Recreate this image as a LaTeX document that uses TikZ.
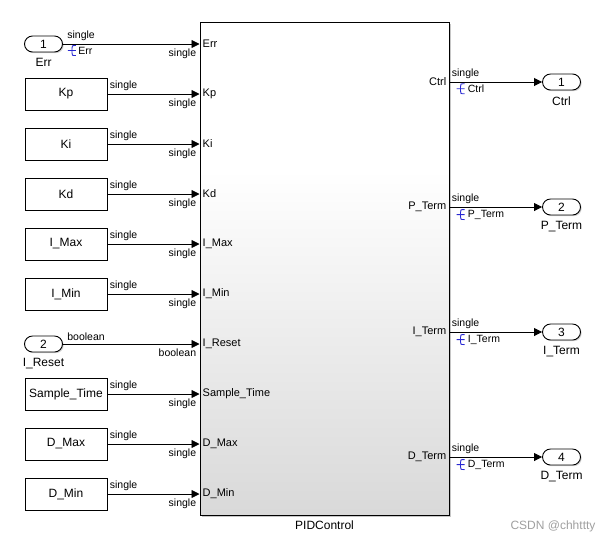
\documentclass[tikz,border=0pt]{standalone}
\usepackage{fontspec}
\setmainfont{Liberation Sans}
\usetikzlibrary{shapes,arrows.meta,positioning,shadows}

\definecolor{logblue}{RGB}{40,40,210}
\pgfdeclareverticalshading{pidfade}{100bp}{color(0bp)=(gray!30); color(25bp)=(gray!30); color(60bp)=(white); color(100bp)=(white)}
\tikzset{logmark/.pic={
	\draw [logblue, line width=0.9pt] (-4,0) -- (4,0)
		(4,-5) .. controls (0,-5) .. (0,-2) -- (0,2) .. controls (0,5) .. (4,5);
}}

\begin{document}
\begin{tikzpicture}[x=1pt, y=-1pt]
			\tikzstyle{Block}	= [rectangle, draw, line width=1pt, shading=pidfade, minimum width=249pt, minimum height=493pt, drop shadow={shadow xshift=1.5pt, shadow yshift=-1.5pt, opacity=0.45}]
			\tikzstyle{Const}	= [rectangle, draw, line width=0.9pt, fill=white, minimum width=82pt, minimum height=32pt, font=\fontsize{12}{14}\selectfont, drop shadow={shadow xshift=1.2pt, shadow yshift=-1.2pt, opacity=0.35}]
			\tikzstyle{Port}	= [rectangle, rounded corners=8pt, draw, line width=0.9pt, fill=white, minimum width=38pt, minimum height=16pt, inner sep=0pt, font=\fontsize{12}{14}\selectfont, drop shadow={shadow xshift=1.2pt, shadow yshift=-1.2pt, opacity=0.35}]
			\tikzstyle{Name}	= [inner sep=1pt, font=\fontsize{12}{14}\selectfont]
			\tikzstyle{PortLbl}	= [inner sep=3pt, font=\fontsize{11}{13}\selectfont]
			\tikzstyle{Lbl}		= [inner sep=2pt, font=\fontsize{10.5}{12}\selectfont]
			\tikzstyle{SigName}	= [inner sep=1pt, font=\fontsize{10.5}{12}\selectfont]
			\tikzstyle{Sig}		= [line width=0.8pt, -{Triangle[length=8pt, width=8pt]}]
			\tikzstyle{Mark}	= [gray!75, font=\fontsize{12}{14}\selectfont]
			
			\useasboundingbox (0,0) rectangle (612,542);
			
			% subsystem
			\node (pid) at (324.5,268.5) [Block] {};
			\node (pidname) [Name, below=4pt of pid] {PIDControl};
			
			% sources
			\node (in1) at (43.5,44) [Port] {1};
			\node (kp) at (66,94) [Const] {Kp};
			\node (ki) at (66,144) [Const] {Ki};
			\node (kd) at (66,194) [Const] {Kd};
			\node (imax) at (66,244) [Const] {I\_Max};
			\node (imin) at (66,294) [Const] {I\_Min};
			\node (in2) at (43.5,344) [Port] {2};
			\node (st) at (66,394) [Const] {Sample\_Time};
			\node (dmax) at (66,444) [Const] {D\_Max};
			\node (dmin) at (66,494) [Const] {D\_Min};
			\node (in1name) [Name, below=5pt of in1] {Err};
			\node (in2name) [Name, below=5pt of in2] {I\_Reset};
			
			% outports
			\node (out1) at (561.5,82) [Port] {1};
			\node (out2) at (561.5,207) [Port] {2};
			\node (out3) at (561.5,332) [Port] {3};
			\node (out4) at (561.5,457) [Port] {4};
			\node (out1name) [Name, below=5pt of out1] {Ctrl};
			\node (out2name) [Name, below=5pt of out2] {P\_Term};
			\node (out3name) [Name, below=5pt of out3] {I\_Term};
			\node (out4name) [Name, below=5pt of out4] {D\_Term};
			
			% port labels inside the block
			\node [PortLbl, anchor=west] at (pid.west |- in1) {Err};
			\node [PortLbl, anchor=west] at (pid.west |- kp) {Kp};
			\node [PortLbl, anchor=west] at (pid.west |- ki) {Ki};
			\node [PortLbl, anchor=west] at (pid.west |- kd) {Kd};
			\node [PortLbl, anchor=west] at (pid.west |- imax) {I\_Max};
			\node [PortLbl, anchor=west] at (pid.west |- imin) {I\_Min};
			\node [PortLbl, anchor=west] at (pid.west |- in2) {I\_Reset};
			\node [PortLbl, anchor=west] at (pid.west |- st) {Sample\_Time};
			\node [PortLbl, anchor=west] at (pid.west |- dmax) {D\_Max};
			\node [PortLbl, anchor=west] at (pid.west |- dmin) {D\_Min};
			\node [PortLbl, anchor=east] at (pid.east |- out1) {Ctrl};
			\node [PortLbl, anchor=east] at (pid.east |- out2) {P\_Term};
			\node [PortLbl, anchor=east] at (pid.east |- out3) {I\_Term};
			\node [PortLbl, anchor=east] at (pid.east |- out4) {D\_Term};
			
			% input signals
			\draw [Sig] (in1) -- (pid.west |- in1) node [Lbl, pos=0, above right, xshift=2pt, yshift=1pt] {single} node [Lbl, pos=1, below left, xshift=-1pt, yshift=-2pt] {single}
				node [SigName, pos=0, below right, xshift=14pt, yshift=-1.5pt] (errsig) {Err};
			\draw [Sig] (kp) -- (pid.west |- kp) node [Lbl, pos=0, above right, yshift=1pt] {single} node [Lbl, pos=1, below left, xshift=-1pt, yshift=-2pt] {single};
			\draw [Sig] (ki) -- (pid.west |- ki) node [Lbl, pos=0, above right, yshift=1pt] {single} node [Lbl, pos=1, below left, xshift=-1pt, yshift=-2pt] {single};
			\draw [Sig] (kd) -- (pid.west |- kd) node [Lbl, pos=0, above right, yshift=1pt] {single} node [Lbl, pos=1, below left, xshift=-1pt, yshift=-2pt] {single};
			\draw [Sig] (imax) -- (pid.west |- imax) node [Lbl, pos=0, above right, yshift=1pt] {single} node [Lbl, pos=1, below left, xshift=-1pt, yshift=-2pt] {single};
			\draw [Sig] (imin) -- (pid.west |- imin) node [Lbl, pos=0, above right, yshift=1pt] {single} node [Lbl, pos=1, below left, xshift=-1pt, yshift=-2pt] {single};
			\draw [Sig] (in2) -- (pid.west |- in2) node [Lbl, pos=0, above right, xshift=2pt, yshift=1pt] {boolean} node [Lbl, pos=1, below left, xshift=-1pt, yshift=-2pt] {boolean};
			\draw [Sig] (st) -- (pid.west |- st) node [Lbl, pos=0, above right, yshift=1pt] {single} node [Lbl, pos=1, below left, xshift=-1pt, yshift=-2pt] {single};
			\draw [Sig] (dmax) -- (pid.west |- dmax) node [Lbl, pos=0, above right, yshift=1pt] {single} node [Lbl, pos=1, below left, xshift=-1pt, yshift=-2pt] {single};
			\draw [Sig] (dmin) -- (pid.west |- dmin) node [Lbl, pos=0, above right, yshift=1pt] {single} node [Lbl, pos=1, below left, xshift=-1pt, yshift=-2pt] {single};
			\pic at ([xshift=-5pt]errsig.west) {logmark};
			
			% output signals
			\draw [Sig] (pid.east |- out1) -- (out1) node [Lbl, pos=0, above right, yshift=1pt] {single}
				node [SigName, pos=0, below right, xshift=17pt, yshift=-1.5pt] (ctrlsig) {Ctrl};
			\draw [Sig] (pid.east |- out2) -- (out2) node [Lbl, pos=0, above right, yshift=1pt] {single}
				node [SigName, pos=0, below right, xshift=17pt, yshift=-1.5pt] (psig) {P\_Term};
			\draw [Sig] (pid.east |- out3) -- (out3) node [Lbl, pos=0, above right, yshift=1pt] {single}
				node [SigName, pos=0, below right, xshift=17pt, yshift=-1.5pt] (isig) {I\_Term};
			\draw [Sig] (pid.east |- out4) -- (out4) node [Lbl, pos=0, above right, yshift=1pt] {single}
				node [SigName, pos=0, below right, xshift=17pt, yshift=-1.5pt] (dsig) {D\_Term};
			\pic at ([xshift=-6pt]ctrlsig.west) {logmark};
			\pic at ([xshift=-6pt]psig.west) {logmark};
			\pic at ([xshift=-6pt]isig.west) {logmark};
			\pic at ([xshift=-6pt]dsig.west) {logmark};
			
			\node (mark) at (553,526) [Mark] {CSDN @chhttty};
\end{tikzpicture}
\end{document}
